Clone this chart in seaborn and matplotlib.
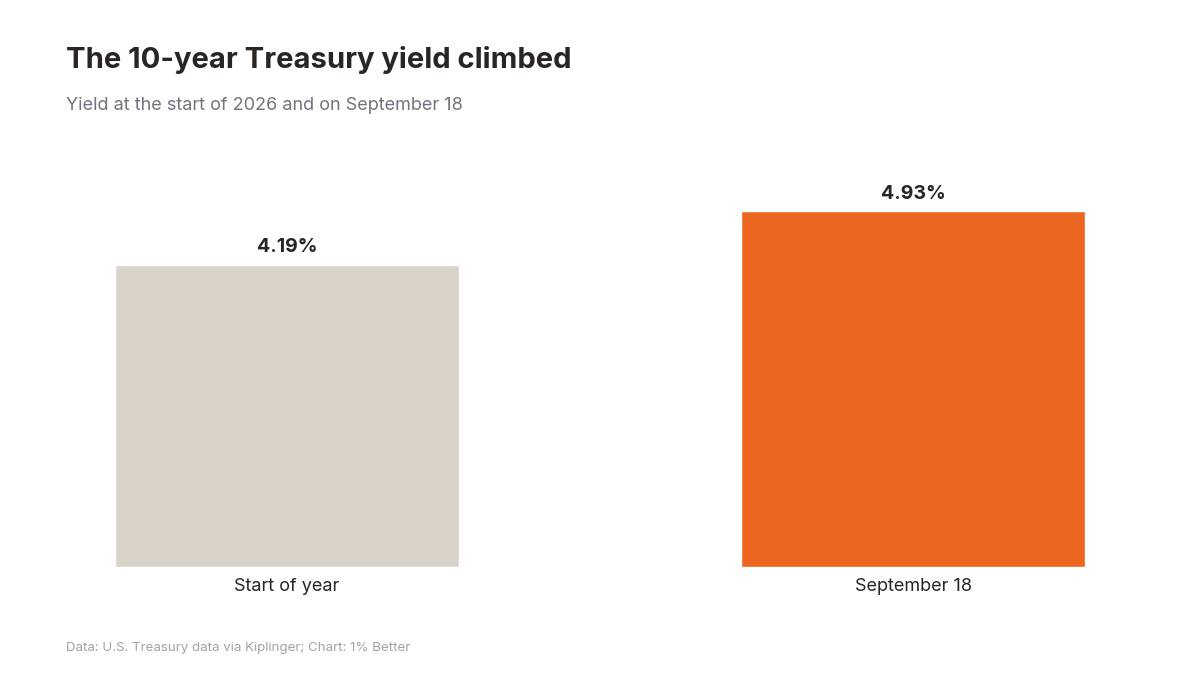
import matplotlib
matplotlib.use("Agg")
import matplotlib.pyplot as plt
import seaborn as sns
import pandas as pd

# Chart data
categories = ["Start of year", "September 18"]
yields = [4.19, 4.93]
bar_colors = ["#D9D3C9", "#EC6620"]

title = "The 10-year Treasury yield climbed"
subtitle = "Yield at the start of 2026 and on September 18"
source = "Data: U.S. Treasury data via Kiplinger; Chart: 1% Better"

df = pd.DataFrame({"category": categories, "yield": yields})

sns.set_style("white")
plt.rcParams["font.family"] = ["Inter", "DejaVu Sans"]

fig = plt.figure(figsize=(12, 6.75), dpi=100)
ax = fig.add_axes([66 / 1200, 1 - 567 / 675, 1068 / 1200, 417 / 675])

sns.barplot(data=df, x="category", y="yield", hue="category",
            palette=bar_colors, width=0.55, saturation=1,
            legend=False, ax=ax)

for i, v in enumerate(yields):
    ax.text(i, v + 0.12, f"{v:.2f}%", ha="center", va="bottom",
            fontsize=14, fontweight="bold", color="#2A2522")

ax.set_xlim(-0.353, 1.353)
ax.set_ylim(0, 5.78)
ax.set_xlabel("")
ax.set_ylabel("")
ax.set_yticks([])
ax.tick_params(axis="x", length=0, pad=8, labelsize=13, labelcolor="#2A2522")
sns.despine(ax=ax, left=True, bottom=True)

fig.text(66 / 1200, 1 - 68 / 675, title, fontsize=21, fontweight="bold",
         color="#2A2522", ha="left", va="baseline")
fig.text(66 / 1200, 1 - 110 / 675, subtitle, fontsize=13,
         color="#737380", ha="left", va="baseline")
fig.text(66 / 1200, 1 - 651 / 675, source, fontsize=9.6,
         color="#A0A3AB", ha="left", va="baseline")

fig.savefig("out.png", dpi=100, facecolor="white")
